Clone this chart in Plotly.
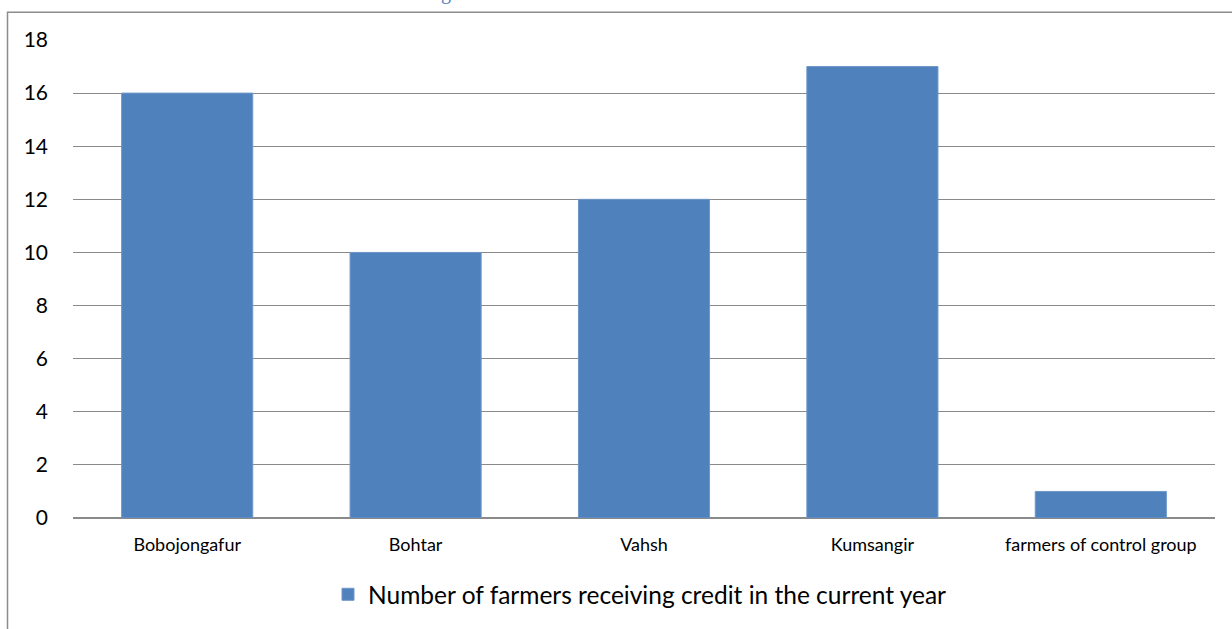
import plotly.graph_objects as go

categories = ["Bobojongafur", "Bohtar", "Vahsh", "Kumsangir", "farmers of control group"]
values = [16, 10, 12, 17, 1]
series_name = "Number of farmers receiving credit in the current year"
y_ticks = [0, 2, 4, 6, 8, 10, 12, 14, 16, 18]

W, H = 1232, 629
L, R, T, B = 73, 17, 40, 107
pw, ph = W - L - R, H - T - B

def px_x(p):
    return (p - L) / pw

def px_y(p):
    return (H - B - p) / ph

fig = go.Figure()
fig.add_trace(go.Bar(
    x=categories, y=values, name=series_name,
    marker=dict(color="#4F81BD", line=dict(color="#6E97C8", width=1)),
    showlegend=True,
))

fig.update_layout(
    width=W, height=H,
    margin=dict(l=L, r=R, t=T, b=B, pad=0),
    paper_bgcolor="white", plot_bgcolor="white",
    bargap=0.426,
    font=dict(family="Lato, Carlito, sans-serif", color="#000000"),
    showlegend=True,
    legend=dict(
        orientation="h", x=px_x(640), xanchor="center", xref="paper",
        y=px_y(599), yanchor="middle",
        font=dict(size=24.5, color="#000000"),
        itemwidth=30, bgcolor="rgba(0,0,0,0)",
    ),
    xaxis=dict(
        showgrid=False, showline=False, zeroline=False,
        tickfont=dict(size=18, color="#000000"),
        ticks="", ticklabelstandoff=14,
    ),
    yaxis=dict(
        range=[0, 18], tickvals=y_ticks,
        showgrid=True, gridcolor="#8A8A8A", gridwidth=1,
        zeroline=True, zerolinecolor="#8A8A8A", zerolinewidth=2,
        showline=False, ticks="",
        tickfont=dict(size=21, color="#000000"),
        ticklabelstandoff=24,
    ),
)

# outer chart border (partially cropped)
fig.add_shape(type="rect", xref="paper", yref="paper",
              x0=px_x(7.5), x1=px_x(1245), y0=px_y(660), y1=px_y(12),
              line=dict(color="#8C8C8C", width=1.5), fillcolor="rgba(0,0,0,0)",
              layer="below")

# cropped title fragment at the very top (cut off in the reference too)
fig.add_annotation(text="g", xref="paper", yref="paper",
                   x=px_x(446), y=px_y(-8), xanchor="center", yanchor="middle",
                   showarrow=False,
                   font=dict(size=20, color="#4F81BD", family="Liberation Serif"))

fig.write_html("out.html")
